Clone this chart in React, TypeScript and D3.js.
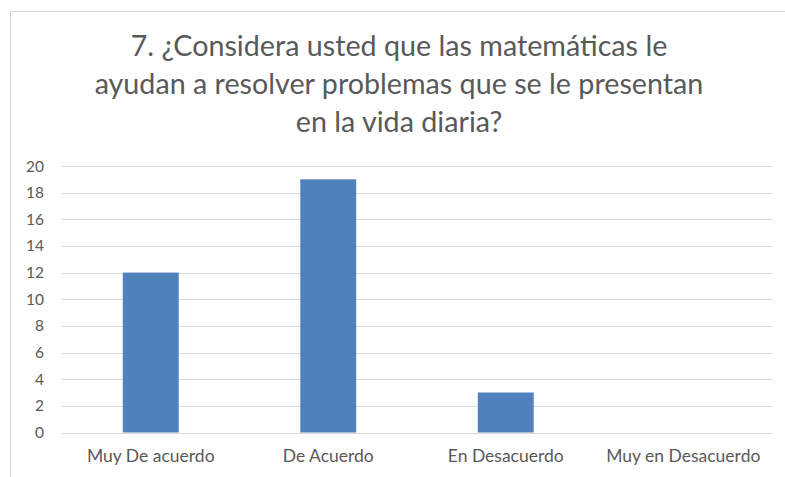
import React from "react";
import * as d3 from "d3";

const titleLines = [
  "7. ¿Considera usted que las matemáticas le",
  "ayudan a resolver problemas que se le presentan",
  "en la vida diaria?",
];
const categories = ["Muy De acuerdo", "De Acuerdo", "En Desacuerdo", "Muy en Desacuerdo"];
const values = [12, 19, 3, 0];
const yTicks = [0, 2, 4, 6, 8, 10, 12, 14, 16, 18, 20];

const W = 785;
const H = 477;
const FONT = "Lato, 'Open Sans', sans-serif";
const TEXT = "#595959";

export default function App() {
  const plotLeft = 62;
  const plotRight = 772;
  const y = d3.scaleLinear().domain([0, 20]).range([432.5, 166]);
  const x = d3
    .scaleBand<string>()
    .domain(categories)
    .range([plotLeft, plotRight])
    .paddingInner(0.685)
    .paddingOuter(0.3425);

  return (
    <svg
      width={W}
      height={H}
      style={{ position: "absolute", left: 0, top: 0, background: "#fff" }}
      fontFamily={FONT}
    >
      <rect x={0} y={0} width={W} height={H} fill="#fff" />
      <rect x={10.5} y={11.5} width={W} height={H} fill="none" stroke="#d9d9d9" strokeWidth={1} />
      {titleLines.map((t, i) => (
        <text
          key={i}
          x={399}
          y={56 + i * 38}
          textAnchor="middle"
          fontSize={28.7}
          fill={TEXT}
        >
          {t}
        </text>
      ))}
      {yTicks.map((t) => (
        <g key={t}>
          <line
            x1={plotLeft}
            x2={plotRight}
            y1={Math.round(y(t)) + 0.5}
            y2={Math.round(y(t)) + 0.5}
            stroke="#d9d9d9"
            strokeWidth={1}
          />
          <text x={44} y={y(t) + 5.5} textAnchor="end" fontSize={15.5} fill={TEXT}>
            {t}
          </text>
        </g>
      ))}
      {categories.map((c, i) => (
        <g key={c}>
          <rect
            x={x(c)}
            y={y(values[i])}
            width={x.bandwidth()}
            height={y(0) - y(values[i])}
            fill="#4f81bd"
          />
          <text
            x={(x(c) as number) + x.bandwidth() / 2}
            y={462}
            textAnchor="middle"
            fontSize={17.5}
            fill={TEXT}
          >
            {c}
          </text>
        </g>
      ))}
    </svg>
  );
}
